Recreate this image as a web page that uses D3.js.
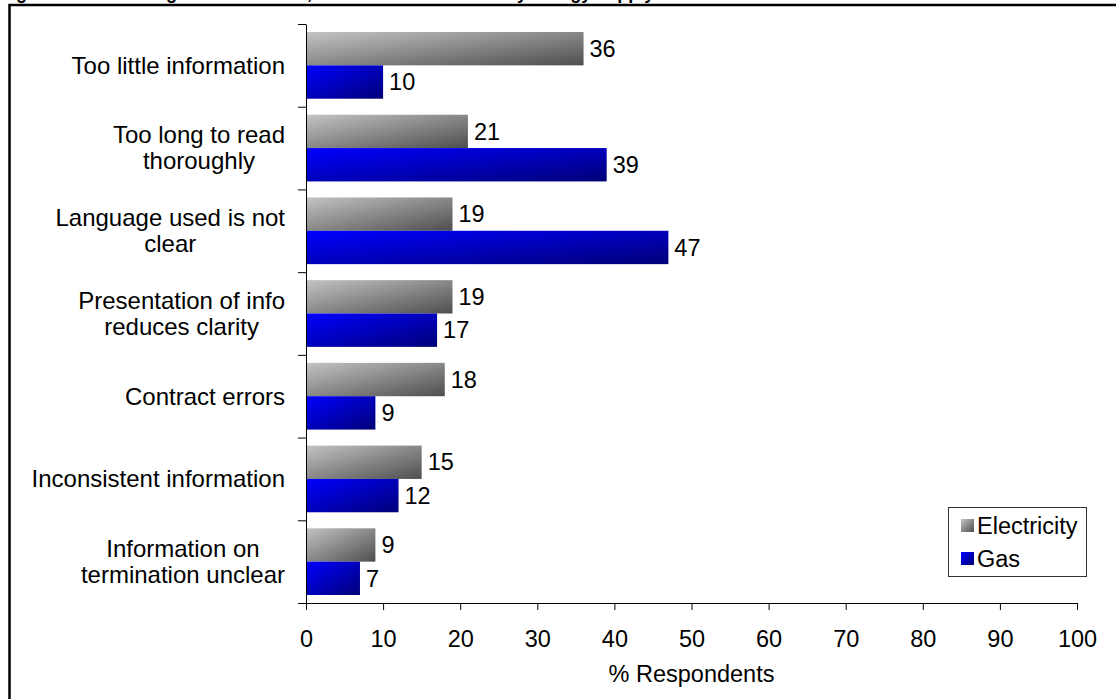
<!DOCTYPE html>
<html>
<head>
<meta charset="utf-8">
<script src="https://cdn.jsdelivr.net/npm/d3@7"></script>
<style>
  html, body { margin: 0; padding: 0; background: #fff; }
  svg { display: block; font-family: Arial, "Liberation Sans", sans-serif; }
</style>
</head>
<body>
<svg id="chart" width="1116" height="699"></svg>
<script>
// ---- data -------------------------------------------------------------
const titleText = "Figure 4.12: Reading contract terms, main difficulties cited by energy supply";
const categories = [
  "Too little information",
  "Too long to read\nthoroughly",
  "Language used is not\nclear",
  "Presentation of info\nreduces clarity",
  "Contract errors",
  "Inconsistent information",
  "Information on\ntermination unclear"
];
const seriesNames = ["Electricity", "Gas"];
const electricity = [36, 21, 19, 19, 18, 15, 9];
const gas = [10, 39, 47, 17, 9, 12, 7];
const xTicks = [0, 10, 20, 30, 40, 50, 60, 70, 80, 90, 100];
const xTitle = "% Respondents";

// ---- layout -----------------------------------------------------------
const svg = d3.select("#chart");
const W = 1116, H = 699;
const plot = { left: 306, right: 1077, top: 24, bottom: 603 };
const fontSize = 23.5;
const catFontSize = 24;

// gradients
const defs = svg.append("defs");
function diagGradient(id, from, to) {
  const g = defs.append("linearGradient").attr("id", id)
    .attr("x1", 0).attr("y1", 0).attr("x2", 1).attr("y2", 1);
  g.append("stop").attr("offset", "0%").attr("stop-color", from);
  g.append("stop").attr("offset", "100%").attr("stop-color", to);
}
diagGradient("gradElec", "#c4c4c4", "#4e4e4e");
diagGradient("gradGas", "#0000ff", "#000078");
const fills = { Electricity: "url(#gradElec)", Gas: "url(#gradGas)" };

// heading (mostly above the top edge) and outer frame
svg.append("text")
  .attr("x", 0).attr("y", -0.8)
  .attr("font-size", 18).attr("font-weight", "bold")
  .text(titleText);
svg.append("rect")
  .attr("x", 9.5).attr("y", 5)
  .attr("width", W + 50).attr("height", H + 50)
  .attr("fill", "none").attr("stroke", "#000").attr("stroke-width", 2.5);

// scales
const x = d3.scaleLinear().domain([0, 100]).range([plot.left, plot.right]);
const y = d3.scaleBand().domain(categories).range([plot.top, plot.bottom]).padding(0);
const ySub = d3.scaleBand().domain(seriesNames).range([0, y.bandwidth()])
  .paddingInner(0).paddingOuter(0.24);
const yIdx = d3.scaleLinear().domain([0, categories.length]).range([plot.top, plot.bottom]);

const rows = categories.map((c, i) => ({ cat: c, values: [
  { series: "Electricity", value: electricity[i] },
  { series: "Gas", value: gas[i] }
]}));

// bars
const groups = svg.append("g").selectAll("g.cat").data(rows).join("g")
  .attr("class", "cat")
  .attr("transform", d => `translate(0,${y(d.cat)})`);

groups.selectAll("rect").data(d => d.values).join("rect")
  .attr("x", x(0))
  .attr("y", d => ySub(d.series))
  .attr("width", d => x(d.value) - x(0))
  .attr("height", ySub.bandwidth())
  .attr("fill", d => fills[d.series]);

groups.selectAll("text.val").data(d => d.values).join("text")
  .attr("class", "val")
  .attr("x", d => x(d.value) + 6)
  .attr("y", d => ySub(d.series) + ySub.bandwidth() / 2)
  .attr("dy", "0.35em")
  .attr("font-size", fontSize)
  .attr("fill", "#000")
  .text(d => d.value);

// x axis
const xAxis = svg.append("g")
  .attr("transform", `translate(0,${plot.bottom})`)
  .call(d3.axisBottom(x).tickValues(xTicks).tickSize(7).tickSizeOuter(0).tickPadding(20));
xAxis.select(".domain").attr("stroke", "#000").attr("d", `M${plot.left - 8},0.5H${plot.right + 0.5}`);
xAxis.selectAll("text").attr("font-size", fontSize).attr("font-family", "Arial, 'Liberation Sans', sans-serif").attr("fill", "#000");

// y axis (ticks on category boundaries)
const yAxis = svg.append("g")
  .attr("transform", `translate(${plot.left},0)`)
  .call(d3.axisLeft(yIdx).tickValues(d3.range(categories.length + 1)).tickFormat("").tickSize(8).tickSizeOuter(0));
yAxis.select(".domain").attr("stroke", "#000");

// category labels: centred lines, block right-aligned
const labelRight = 285;
const lineH = 26;
categories.forEach(c => {
  const lines = c.split("\n");
  const cy = y(c) + y.bandwidth() / 2;
  const t = svg.append("text")
    .attr("font-size", catFontSize)
    .attr("text-anchor", "middle")
    .attr("fill", "#000");
  const spans = lines.map((ln, i) => t.append("tspan")
    .attr("y", cy - (lines.length - 1) * lineH / 2 + i * lineH)
    .attr("dy", "0.35em")
    .text(ln));
  const maxW = d3.max(spans, s => s.node().getComputedTextLength());
  spans.forEach(s => s.attr("x", labelRight - maxW / 2));
});

// axis title
svg.append("text")
  .attr("x", (plot.left + plot.right) / 2)
  .attr("y", 682)
  .attr("text-anchor", "middle")
  .attr("font-size", fontSize)
  .text(xTitle);

// legend
const legend = svg.append("g");
legend.append("rect")
  .attr("x", 948.5).attr("y", 507.5).attr("width", 138).attr("height", 69)
  .attr("fill", "#fff").attr("stroke", "#333").attr("stroke-width", 1);
const legendRows = legend.selectAll("g.item").data(seriesNames).join("g")
  .attr("class", "item")
  .attr("transform", (d, i) => `translate(0,${i * 33})`);
legendRows.append("rect")
  .attr("x", 961).attr("y", 519).attr("width", 13).attr("height", 13)
  .attr("fill", d => fills[d]);
legendRows.append("text")
  .attr("x", 977).attr("y", 534)
  .attr("font-size", fontSize)
  .text(d => d);
</script>
</body>
</html>
